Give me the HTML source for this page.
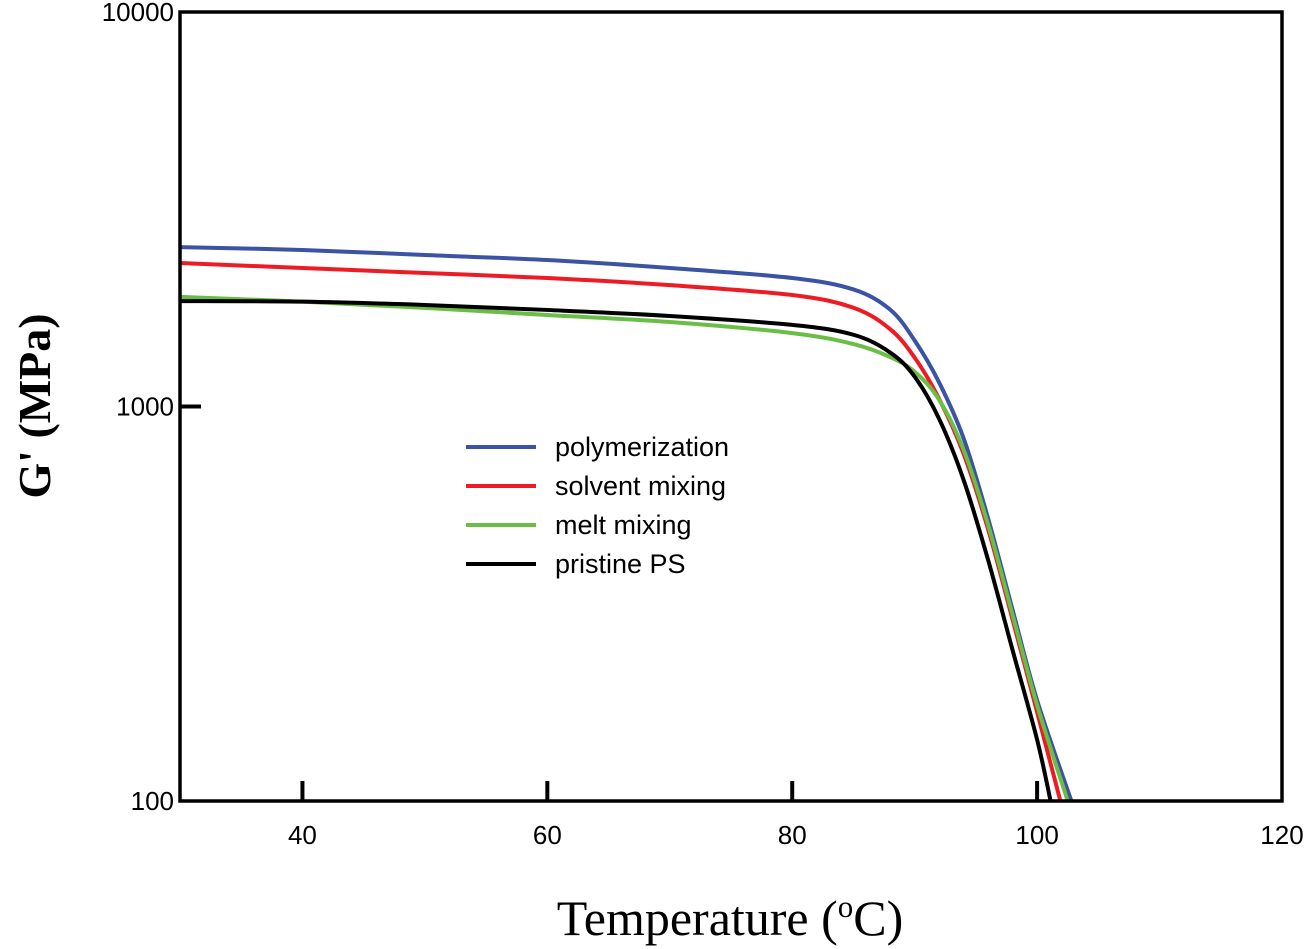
<!DOCTYPE html>
<html><head><meta charset="utf-8"><style>
body{margin:0;background:#fff;}
svg{display:block;}
</style></head><body>
<svg id="chart" width="1307" height="949" viewBox="0 0 1307 949" xmlns="http://www.w3.org/2000/svg">
<g id="plot"></g>
</svg>
<script>
const temps = [30,40,50,60,70,80,85,88,90,92,94,96,98,100];
const polymerization = [2536,2493,2421,2351,2244,2117,1980,1760,1470,1150,830,520,305,180];
const solventMixing = [2310,2244,2180,2117,2031,1917,1780,1570,1330,1045,758,488,288,168];
const meltMixing = [1896,1844,1778,1706,1638,1535,1440,1335,1225,1040,776,501,296,175];
const pristinePS = [1850,1844,1809,1757,1696,1610,1520,1370,1190,930,651,408,241,143];
const endTemps = [102.8,101.9,102.5,101.1];
const seriesNames = ["polymerization","solvent mixing","melt mixing","pristine PS"];
const xTicks = [40,60,80,100,120];
const yTicks = [100,1000,10000];

const NS="http://www.w3.org/2000/svg";
const L=180,R=1282,T=12,B=801;
const xs=t=>L+(t-30)/(120-30)*(R-L);
const ys=v=>B-(Math.log10(v)-2)/2*(B-T);
const g=document.getElementById('plot');
function mk(tag,at){const e=document.createElementNS(NS,tag);for(const k in at)e.setAttribute(k,at[k]);g.appendChild(e);return e;}

const colors=["#3a53a4","#ed1c24","#6abd45","#000000"];
const data=[polymerization,solventMixing,meltMixing,pristinePS];
const keys=["polymerization","solvent-mixing","melt-mixing","pristine-ps"];
const clip=mk('clipPath',{id:'cp'});
const cr=document.createElementNS(NS,'rect');cr.setAttribute('x',L);cr.setAttribute('y',T);cr.setAttribute('width',R-L);cr.setAttribute('height',B-T);clip.appendChild(cr);
data.forEach((arr,i)=>{
  const pts=temps.map((t,j)=>[xs(t),ys(arr[j])]);
  pts.push([xs(endTemps[i]),ys(100)]);
  let d=`M${pts[0][0]},${pts[0][1]}`;
  for(let k=0;k<pts.length-1;k++){
    const p0=pts[Math.max(0,k-1)],p1=pts[k],p2=pts[k+1],p3=pts[Math.min(pts.length-1,k+2)];
    const c1=[p1[0]+(p2[0]-p0[0])/6,p1[1]+(p2[1]-p0[1])/6];
    const c2=[p2[0]-(p3[0]-p1[0])/6,p2[1]-(p3[1]-p1[1])/6];
    d+=` C${c1[0]},${c1[1]} ${c2[0]},${c2[1]} ${p2[0]},${p2[1]}`;
  }
  const p=mk('path',{d:d,fill:'none',stroke:colors[i],'stroke-width':4,'clip-path':'url(#cp)'});
  
  
  const ly=447+i*39;
  const ll=mk('line',{x1:466,x2:536,y1:ly,y2:ly,stroke:colors[i],'stroke-width':4});
  
  
  const lt=mk('text',{x:555,y:ly+9,'font-family':'Liberation Sans, sans-serif','font-size':27});
  lt.textContent=seriesNames[i];
  
  
});
const frame=mk('rect',{x:L,y:T,width:R-L,height:B-T,fill:'none',stroke:'#000','stroke-width':3.5});


xTicks.forEach(t=>{
  if(t<120){const tk=mk('line',{x1:xs(t),x2:xs(t),y1:B,y2:B-20,stroke:'#000','stroke-width':4});
  
  }
  const tl=mk('text',{x:xs(t),y:B+43,'text-anchor':'middle','font-family':'Liberation Sans, sans-serif','font-size':26});
  tl.textContent=t;
  
  
});
yTicks.forEach(v=>{
  if(v===1000){const tk=mk('line',{x1:L,x2:L+21,y1:ys(v),y2:ys(v),stroke:'#000','stroke-width':4});
  
  }
  const tl=mk('text',{x:L-6,y:ys(v)+9,'text-anchor':'end','font-family':'Liberation Sans, sans-serif','font-size':26});
  tl.textContent=v;
  
  
});
const yt=mk('text',{x:0,y:0,transform:'translate(50,406) rotate(-90)','text-anchor':'middle','font-family':'Liberation Serif, serif','font-size':46,'font-weight':'bold'});
yt.textContent="G' (MPa)";


const xt=mk('text',{x:730,y:935,'text-anchor':'middle','font-family':'Liberation Serif, serif','font-size':50});
xt.innerHTML='Temperature (<tspan dy="-18" font-size="31">o</tspan><tspan dy="18">C)</tspan>';


</script>
</body></html>
